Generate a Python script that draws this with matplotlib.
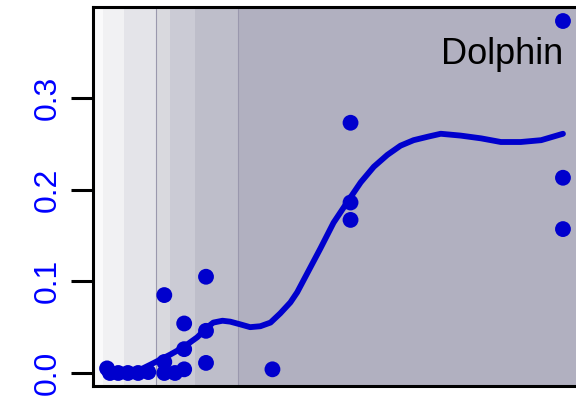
import numpy as np
import matplotlib.pyplot as plt

# observed values
obs_x = [2.9, 3.5, 5.2, 7.2, 9.3, 11.4, 14.7, 14.7, 14.7, 16.9,
         18.8, 18.8, 18.8, 23.3, 23.3, 23.3, 37.0,
         53.1, 53.1, 53.1, 96.9, 96.9, 96.9]
obs_y = [0.005, 0.0, 0.0, 0.0, 0.0, 0.001, 0.085, 0.012, 0.0, 0.0,
         0.054, 0.026, 0.004, 0.105, 0.046, 0.011, 0.004,
         0.273, 0.186, 0.167, 0.384, 0.213, 0.157]

# smoothed trend
fit_x = [9.5, 11.8, 15.9, 18.6, 21.5, 23.6, 24.8, 26.7, 28.3, 30.4, 32.4, 34.5,
         36.6, 38.6, 40.7, 42.1, 44.2, 46.9, 49.6, 52.5, 55.2, 57.9, 60.7,
         63.4, 66.1, 69.2, 71.7, 75.8, 80.0, 84.1, 88.2, 92.4, 96.9]
fit_y = [0.003, 0.009, 0.020, 0.028, 0.039, 0.050, 0.055, 0.057, 0.056, 0.053, 0.050, 0.051,
         0.055, 0.065, 0.077, 0.088, 0.109, 0.136, 0.164, 0.187, 0.208, 0.225, 0.238,
         0.248, 0.254, 0.258, 0.261, 0.259, 0.256, 0.252, 0.252, 0.254, 0.261]

# shaded intervals
band_edges = [2.1, 6.4, 13.0, 15.9, 21.1, 30.0, 101.0]
band_cols = ['#f1f1f3', '#e4e4e9', '#d9d9de', '#cbcbd5', '#bebeca', '#b1b0c0']
line_x = [13.0, 30.0]

fig = plt.figure(figsize=(5.76, 4.11), dpi=100)
ax = fig.add_axes([93 / 576, 1 - 386 / 411, 485 / 576, 379 / 411])
ax.set_facecolor('#fafafb')

for i in range(len(band_cols)):
    ax.axvspan(band_edges[i], band_edges[i + 1], color=band_cols[i], lw=0, zorder=0)
for lx in line_x:
    ax.axvline(lx, color='#9a98ad', lw=0.8, zorder=1)

ax.plot(fit_x, fit_y, color='#0000cd', lw=4.2, solid_capstyle='round',
        solid_joinstyle='round', zorder=2)
ax.scatter(obs_x, obs_y, s=130, color='#0000cd', edgecolors='none', zorder=3)

ax.text(96.9, 0.337, 'Dolphin', ha='right', va='baseline', fontsize=26,
        family='Liberation Sans', color='black')

ax.set_xlim(0, 100)
ax.set_ylim(-0.0142, 0.3993)
ax.set_xticks([])
ax.set_yticks([0.0, 0.1, 0.2, 0.3])
ax.set_yticklabels(['0.0', '0.1', '0.2', '0.3'], rotation=90, va='center',
                   color='blue', fontsize=23, family='Liberation Sans')
ax.tick_params(axis='y', length=16, width=2.2, pad=6)
for s in ax.spines.values():
    s.set_linewidth(2.2)
ax.spines['right'].set_visible(False)

fig.savefig('out.png', dpi=100)
